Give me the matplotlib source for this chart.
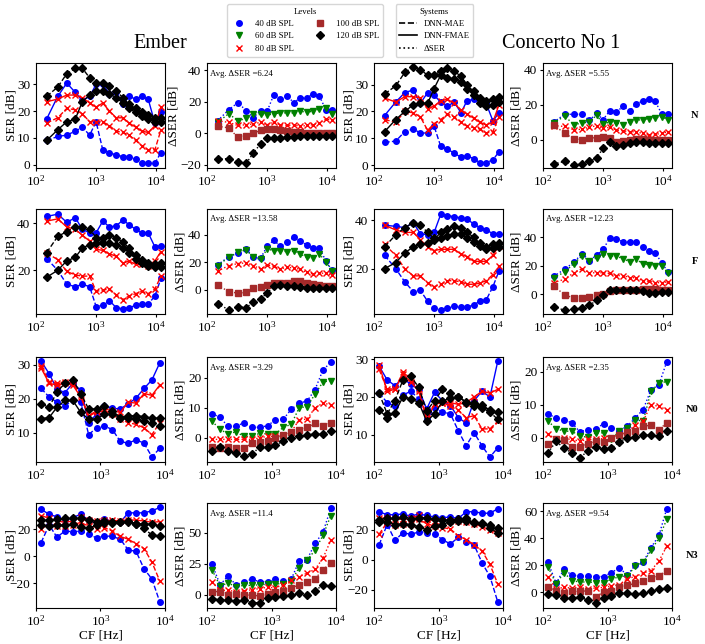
import matplotlib.pyplot as plt
from matplotlib.lines import Line2D
from matplotlib.ticker import NullLocator

plt.rcParams['font.family'] = ['Liberation Serif', 'DejaVu Serif']
plt.rcParams['mathtext.fontset'] = 'stix'

# centre frequencies (Hz)
cf_hi = [150, 230, 325, 450, 590, 780, 1000, 1290, 1670, 2160, 2800, 3530, 4560, 5750, 7350, 9500, 12000]
cf_lo = [120, 160, 211, 281, 372, 494, 655, 869, 1151, 1528, 2027, 2687, 3564, 4728, 6270, 8300]

levels = [40, 60, 80, 100, 120]
ser_levels = [40, 80, 120]
row_names = ['N', 'F', 'N0', 'N3']

# ---------------- N ----------------
ember_n_mae = {
    40: [9, 10.5, 11, 12.5, 14, 11, 16, 5.5, 4.5, 3.5, 3, 3, 2, 0.5, 0.5, 0.5, 4.5],
    80: [15.5, 17.5, 21, 20.5, 19, 16, 16, 16, 14.5, 12.5, 12, 11, 9, 7, 5.5, 5.5, 13],
    120: [25.5, 29, 34, 36, 36, 32.5, 30.5, 30.5, 29.5, 27.5, 25, 22.5, 21, 19.5, 18.5, 17.5, 17.5],
}
ember_n_fmae = {
    40: [17, 25.5, 30.5, 27, 24, 25.5, 30, 30, 26.5, 27, 22.5, 25.5, 24.5, 25.5, 24.5, 15.5, 19.5],
    80: [23.5, 24.5, 26, 26, 25, 23, 21.5, 23, 20, 17.5, 17.5, 15.5, 14, 12.5, 12, 14.5, 21.5],
    120: [9, 13, 16, 17, 23.5, 26, 27.5, 27.5, 26.5, 25, 23, 21, 19.5, 18, 17, 16, 16],
}
ember_n_dser = {
    40: [8, 15, 19.5, 14.5, 10, 14.5, 14, 24.5, 22, 23.5, 19.5, 22.5, 22.5, 25, 24, 15, 15],
    60: [7, 12.5, 8, 9.5, 12, 12, 11.5, 12.5, 13, 13, 13, 14, 13.5, 14, 15.5, 16, 12.5],
    80: [8, 7, 5, 5.5, 6, 7, 5.5, 7, 5.5, 5, 5.5, 4.5, 5, 5.5, 6.5, 9, 8.5],
    100: [4.5, 3.5, -2.5, -1.5, 0, 2, 2.5, 3, 2, 1.5, 1, 1, 0.5, 0.5, 0, 0, 0],
    120: [-16.5, -16, -18, -19, -12.5, -6.5, -3, -3, -3, -2.5, -2, -1.5, -1.5, -1.5, -1.5, -1.5, -1.5],
}
concerto_n_mae = {
    40: [8.5, 9, 12.5, 13.5, 12, 12, 14.5, 7, 6, 4.5, 3, 3.5, 2.5, 1, 1, 2, 5],
    80: [17, 16, 20, 19.5, 18, 13, 15.5, 17, 19, 18, 16, 14.5, 14, 13.5, 12, 12.5, 18],
    120: [26.5, 29.5, 34.5, 36.5, 35.5, 33.5, 33.5, 35, 36, 35, 33, 30, 27.5, 25, 24, 24.5, 25.5],
}
concerto_n_fmae = {
    40: [18.5, 23.5, 27, 28, 23, 27, 26, 23.5, 22, 23.5, 19.5, 24, 24.5, 24.5, 23, 16.5, 19.5],
    80: [25, 23.5, 25.5, 25.5, 25, 21, 22, 24, 24.5, 23, 20.5, 19, 17.5, 16, 15, 16, 22.5],
    120: [12.5, 17, 20, 22.5, 23, 23, 28.5, 33.5, 32.5, 32, 31, 28.5, 26, 23, 22, 22.5, 23.5],
}
concerto_n_dser = {
    40: [10, 14.5, 14.5, 14.5, 11, 15, 11.5, 16.5, 16, 19, 16.5, 20.5, 22, 23.5, 22, 14.5, 14.5],
    60: [9.5, 13.5, 8.5, 9.5, 10, 14, 9, 10, 9.5, 8.5, 10, 11, 11.5, 12, 12.5, 13, 11.5],
    80: [8, 7.5, 5.5, 6, 7, 8, 6.5, 7, 5.5, 5, 4.5, 4.5, 3.5, 2.5, 3, 3.5, 4.5],
    100: [8.5, 3.5, 0.5, 0, 1, 1, 1.5, 1, -1.5, -1, 0, 0.5, 0.5, 0, 0, 0, 0],
    120: [-14, -12.5, -14.5, -14, -12.5, -10.5, -5, -1.5, -3.5, -3, -2, -1.5, -1.5, -2, -2, -2, -2],
}

# ---------------- F ----------------
ember_f_mae = {
    40: [25, 20, 14, 13, 14, 13, 4.5, 5, 7, 4, 3.5, 4, 5, 5.5, 5.5, 9, 16.5],
    80: [27.5, 24.5, 19.5, 18, 17.5, 17.5, 11, 11.5, 12, 9.5, 7.5, 9, 10, 11, 10, 12, 17.5],
    120: [27.5, 34.5, 36.5, 38.5, 38.5, 37.5, 34, 31.5, 31.5, 31, 29.5, 27.5, 25, 23, 22, 21.5, 21.5],
}
ember_f_fmae = {
    40: [43, 44, 40.5, 42.5, 37.5, 36, 36, 41, 38.5, 39, 41.5, 39.5, 37.5, 36, 36, 30, 30.5],
    80: [41, 42, 38.5, 37.5, 35, 32.5, 29, 28.5, 27, 26, 23, 24, 22.5, 22.5, 22, 24, 28],
    120: [17, 20, 24, 25.5, 29.5, 31, 31.5, 34, 35, 34, 32, 29.5, 26.5, 24.5, 23, 22.5, 23],
}
ember_f_dser = {
    40: [18, 24, 26.5, 29.5, 23.5, 23, 31.5, 36, 31.5, 35, 38, 35.5, 32.5, 30.5, 30.5, 21, 14],
    60: [17.5, 23.5, 27.5, 29, 23.5, 22, 29.5, 28.5, 28.5, 27.5, 28, 26, 23.5, 23, 26, 20.5, 13.5],
    80: [13.5, 17.5, 19, 19.5, 17.5, 15, 18, 17, 15, 16.5, 15.5, 15, 12.5, 11.5, 12, 12, 10.5],
    100: [3.5, -1.5, -2.5, -2, 1, 2, 3.5, 4.5, 4.5, 5, 6, 6, 4.5, 4, 3.5, 3, 3],
    120: [-10.5, -14.5, -12.5, -13, -9, -6.5, -2.5, 2.5, 3.5, 3, 2.5, 2, 1.5, 1.5, 1, 1, 1.5],
}
concerto_f_mae = {
    40: [25.5, 20, 14.5, 10.5, 11, 6.5, 3.5, 3, 3.5, 4.5, 4, 4, 5, 6.5, 7, 12.5, 19],
    80: [30, 25.5, 20, 17, 17, 14, 12.5, 13.5, 15, 15, 14.5, 13.5, 13.5, 14, 15, 17.5, 21],
    120: [29, 34, 37, 39, 38, 35, 32.5, 32.5, 33.5, 34.5, 34.5, 32.5, 31, 29.5, 28, 28.5, 29],
}
concerto_f_fmae = {
    40: [38, 37.5, 37, 39, 34.5, 34, 35, 42.5, 42, 41.5, 41, 40.5, 38.5, 37, 36, 34.5, 34.5],
    80: [38, 36, 35, 35, 32, 29, 27.5, 28, 28, 28, 26, 25, 23, 23, 23, 25.5, 29.5],
    120: [20, 22.5, 26.5, 29, 30, 30.5, 32, 35, 36.5, 37.5, 37, 35, 33, 30.5, 29, 30, 30.5],
}
concerto_f_dser = {
    40: [12.5, 17.5, 22.5, 28.5, 23.5, 27.5, 31.5, 39.5, 38.5, 37, 37, 36.5, 33.5, 30.5, 29, 22, 15.5],
    60: [11.5, 15.5, 21.5, 27, 23, 25.5, 28, 27, 26.5, 25, 22.5, 24.5, 21.5, 20.5, 20, 20, 15],
    80: [8, 10.5, 15, 18, 15, 15, 15, 14.5, 13, 13, 11.5, 11.5, 9.5, 9, 8, 8, 8.5],
    100: [5.5, -0.5, -3, -2.5, -2, -1, 0, 2, 2.5, 2.5, 2.5, 3, 3.5, 3.5, 3.5, 3, 3],
    120: [-9, -11.5, -10.5, -10, -8, -4.5, -0.5, 2.5, 3, 3, 2.5, 2.5, 2, 1, 1, 1.5, 1.5],
}

# ---------------- N0 ----------------
ember_n0_mae = {
    40: [23, 20.5, 19, 18, 19.5, 19, 9.5, 11.5, 12, 11, 7.5, 7, 8, 7, 3, 5.5],
    80: [29.5, 25, 24.5, 25, 24.5, 21, 15, 16, 16.5, 15.5, 14, 13, 12.5, 11.5, 9.5, 13],
    120: [18.5, 17.5, 22, 24.5, 25.5, 21.5, 17, 17, 18, 16.5, 14.5, 14.5, 14, 13.5, 13, 12],
}
ember_n0_fmae = {
    40: [31, 27.3, 22.8, 21.8, 24.5, 22.5, 13, 15.5, 18, 17.2, 17, 18.5, 20.2, 23, 25.5, 30.5],
    80: [29, 24.5, 24, 24.5, 24, 20.5, 15, 16.5, 17, 16.5, 16, 19, 18.7, 21.5, 21, 24],
    120: [14.2, 14.5, 17.5, 19.5, 19.5, 16, 14, 14, 15.5, 15.5, 14.5, 15, 15, 14.8, 14.3, 14.3],
}
ember_n0_dser = {
    40: [8, 6.8, 3.8, 3.8, 5, 3.5, 3.5, 4, 6, 6.2, 9.5, 11.5, 12.2, 16, 22.5, 25],
    60: [5.5, 2.8, 1.3, 2, 0.5, 0.5, 1.5, 1.3, 1.3, 3.5, 4.5, 10, 10.3, 14.5, 18.5, 19],
    80: [-0.5, -0.5, -0.5, -0.5, -0.5, -0.5, 0, 0.5, 0.5, 1, 2, 6, 6.2, 10, 11.5, 11],
    100: [-3, -3.3, -3, -3.3, -3.5, -1.8, -1.5, -1, -0.2, 1, 2, 2.5, 3.5, 4.8, 4, 5],
    120: [-4.3, -3, -4.5, -5, -6, -5.5, -3, -3, -2.5, -1, 0, 0.5, 1, 1.3, 1.3, 2.3],
}
concerto_n0_mae = {
    40: [21, 18.5, 17.5, 20.5, 21.5, 19.5, 14, 17, 16, 15.5, 11, 7, 10.5, 7, 4, 6.5],
    80: [27.3, 22, 22.2, 26.5, 25, 22, 14.5, 18.2, 18.5, 17.5, 16.5, 14.5, 15, 11.5, 11.5, 13.5],
    120: [21, 15.5, 19, 24.5, 25.5, 22.5, 16.3, 19, 22, 21, 20, 18.5, 17.5, 17, 16, 14],
}
concerto_n0_fmae = {
    40: [28.2, 24.5, 23, 25, 23.3, 22, 16.8, 21.2, 19, 17.7, 14.5, 13, 19, 21.5, 20, 29.5],
    80: [28.5, 21.5, 22, 26, 24, 21.5, 14, 18, 18.5, 18.5, 18, 18.5, 20, 21.5, 21, 22],
    120: [16.5, 14.5, 15.8, 20, 19.5, 18.5, 13.5, 15.5, 18.8, 19.8, 20, 18.7, 18.3, 17.8, 16.5, 16],
}
concerto_n0_dser = {
    40: [7.2, 6, 5.5, 4.5, 1.8, 2.5, 2.8, 4.2, 3, 2.2, 3.5, 6, 8.5, 14.5, 16, 23],
    60: [5, 2.8, 2, 2, 0.5, 0.2, 1.5, 1.5, -0.5, 2, 3, 5.5, 5, 14, 16.5, 17],
    80: [1.2, -0.5, -0.2, -0.5, -1, -0.5, -0.5, -0.2, 0, 1, 1.5, 4, 5, 10, 9.5, 8.5],
    100: [-2, -0.5, -0.8, -2.8, -2.8, -1.8, -1, -1.2, -0.2, 1, 1.8, 2.2, 3.5, 3.8, 2.5, 4.5],
    120: [-4.5, -1, -3.2, -4.5, -6, -4, -2.8, -3.5, -3.2, -1.2, 0, 0.2, 0.8, 0.8, 0.5, 2],
}

# ---------------- N3 ----------------
ember_n3_mae = {
    40: [10, 23, 14, 18.5, 18, 18.5, 16, 13.5, 15, 14.5, 12.5, 4.5, 3.5, -9.5, -17, -34],
    80: [20, 24.5, 22.5, 22.5, 23, 25, 22, 20, 21, 18.5, 14.5, 12.5, 9, 5.5, -4.5, -18.5],
    120: [26.5, 26.5, 27.5, 28, 28, 28, 27, 25.5, 26, 25.5, 25.5, 25, 24, 20.5, 15.5, 15],
}
ember_n3_fmae = {
    40: [34.5, 31, 29, 26.5, 28.5, 31, 26.5, 24, 27.5, 25.5, 25, 32, 32, 32, 33.5, 36],
    80: [30, 28, 26, 25, 26, 29, 27, 26, 26.5, 26.5, 26, 27, 26.5, 26, 25, 25.5],
    120: [23, 22.5, 23, 23, 23.5, 21.5, 20.5, 23, 24.5, 24.5, 25, 26, 24, 23.5, 23.5, 22],
}
ember_n3_dser = {
    40: [24.5, 8, 15, 8, 10.5, 12.5, 10.5, 10.5, 12.5, 11, 12.5, 27.5, 28.5, 41.5, 50.5, 70],
    60: [20, 7, 9.5, 6.5, 7.5, 7.5, 8, 8.5, 9, 8.5, 11, 22, 28, 36, 48, 64],
    80: [10, 3.5, 3.5, 2.5, 3, 4, 5, 6, 5.5, 8, 11.5, 14.5, 17.5, 20.5, 29.5, 44],
    100: [2.5, 2.5, 0, 0.5, 0, -0.5, -1, 0.5, 2, 3, 5.5, 8, 10.5, 13, 20, 26],
    120: [-3.5, -4, -4.5, -5, -4.5, -6.5, -6.5, -2.5, -1.5, -1, -0.5, 1, 0, 3, 8, 7],
}
concerto_n3_mae = {
    40: [10, 23.5, 13, 18, 17, 18.5, 18, 17, 13.5, 10.5, 15, 12, 10, -2, -11, -28],
    80: [17, 25, 23.5, 24, 24, 27, 24, 22.5, 21.5, 20.5, 16, 13.5, 10, 6, -3, -16],
    120: [26.5, 28, 28, 28.5, 27, 28, 28, 27, 26.5, 26.5, 27, 27.5, 25.5, 24, 21, 18],
}
concerto_n3_fmae = {
    40: [32, 30, 30, 30.5, 29, 30.5, 29.5, 28.5, 28, 28.5, 27.5, 32, 32, 31, 31, 34],
    80: [28, 27.5, 27, 27, 27.5, 29.5, 27, 26, 26, 26, 26, 25, 24, 22, 20, 18],
    120: [25, 25.5, 23.5, 24, 23.5, 22, 20, 22.5, 23.5, 25.5, 26, 26, 24.5, 24.5, 23, 21],
}
concerto_n3_dser = {
    40: [22, 6.5, 17, 12.5, 12, 12, 11.5, 11.5, 14.5, 18, 12.5, 20, 22, 33, 42, 62],
    60: [18.5, 6, 14.5, 8.5, 7.5, 7.5, 7, 7, 9.5, 11.5, 12, 19, 22, 31, 40, 54],
    80: [11, 2.5, 3.5, 3, 3.5, 2.5, 3, 3.5, 4.5, 5.5, 10, 11.5, 14, 16, 23, 34],
    100: [3.5, 1, -0.5, 0.5, 0.5, 1, -3.5, 0, 1, 3.5, 5, 6.5, 8.5, 10.5, 12, 16],
    120: [-1.5, -2.5, -4.5, -4.5, -3.5, -6, -8, -4.5, -3, -1, -1, -1.5, -1, 0.5, 2, 3],
}

avg_dser = [['6.24', '5.55'], ['13.58', '12.23'], ['3.29', '2.35'], ['11.4', '9.54']]

rows = [
    (cf_hi, [(ember_n_mae, ember_n_fmae, ember_n_dser), (concerto_n_mae, concerto_n_fmae, concerto_n_dser)]),
    (cf_hi, [(ember_f_mae, ember_f_fmae, ember_f_dser), (concerto_f_mae, concerto_f_fmae, concerto_f_dser)]),
    (cf_lo, [(ember_n0_mae, ember_n0_fmae, ember_n0_dser), (concerto_n0_mae, concerto_n0_fmae, concerto_n0_dser)]),
    (cf_lo, [(ember_n3_mae, ember_n3_fmae, ember_n3_dser), (concerto_n3_mae, concerto_n3_fmae, concerto_n3_dser)]),
]

colors = {40: 'blue', 60: 'green', 80: 'red', 100: 'brown', 120: 'black'}
markers = {40: 'o', 60: 'v', 80: 'x', 100: 's', 120: 'D'}
msizes = {40: 4, 60: 4, 80: 4, 100: 4, 120: 4.2}

# axis limits / ticks per panel  [row][col]
ylims = [
    [(-1.3, 38), (-22, 44.7), (-1, 38), (-16.3, 43.9)],
    [(1.3, 46.2), (-17.7, 58.7), (1.2, 44.7), (-14.1, 60)],
    [(1.5, 32.2), (-8, 26.8), (2.7, 30.6), (-7.3, 24.4)],
    [(-38.5, 39.3), (-10.8, 74.3), (-32, 37.8), (-11.8, 66.1)],
]
yticks = [
    [[0, 10, 20, 30], [-20, 0, 20, 40], [0, 10, 20, 30], [0, 20, 40]],
    [[20, 40], [0, 20, 40], [20, 40], [0, 20, 40]],
    [[10, 20, 30], [0, 10, 20], [10, 20, 30], [0, 10, 20]],
    [[-20, 0, 20], [0, 25, 50], [-20, 0, 20], [0, 20, 40, 60]],
]
xlims = [(100, 14000), (100, 14000), (100, 10000), (100, 10000)]

W, H = 705, 644
col_left = [36, 207, 374, 543]
row_top = [63, 209, 357, 503]
aw, ah = 129, 105

fig = plt.figure(figsize=(W / 100, H / 100), dpi=100)


def style_axis(ax, r, c):
    ax.set_xscale('log')
    ax.set_xlim(*xlims[r])
    ax.set_xticks([100, 1000, 10000])
    ax.xaxis.set_minor_locator(NullLocator())
    ax.set_ylim(*ylims[r][c])
    ax.set_yticks(yticks[r][c])
    ax.tick_params(labelsize=9.5, length=2.5, width=0.8, pad=1.5)
    if r == 3:
        ax.set_xlabel('CF [Hz]', fontsize=9.5, labelpad=1)


for r, (cf, songs) in enumerate(rows):
    for s, (mae, fmae, dser) in enumerate(songs):
        c = 2 * s
        ax = fig.add_axes([col_left[c] / W, 1 - (row_top[r] + ah) / H, aw / W, ah / H])
        for lvl in ser_levels:
            ax.plot(cf, mae[lvl], ls='--', color=colors[lvl], marker=markers[lvl], ms=msizes[lvl], lw=1)
            ax.plot(cf, fmae[lvl], ls='-', color=colors[lvl], marker=markers[lvl], ms=msizes[lvl], lw=1)
        style_axis(ax, r, c)
        ax.set_ylabel('SER [dB]', fontsize=9.5)
        ax.yaxis.set_label_coords(-0.147, 0.5)

        ax2 = fig.add_axes([col_left[c + 1] / W, 1 - (row_top[r] + ah) / H, aw / W, ah / H])
        for lvl in levels:
            ax2.plot(cf, dser[lvl], ls=':', color=colors[lvl], marker=markers[lvl], ms=msizes[lvl], lw=1)
        style_axis(ax2, r, c + 1)
        ax2.set_ylabel('ΔSER [dB]', fontsize=9.5, labelpad=1)
        ax2.text(0.025, 0.9, 'Avg. ΔSER =' + avg_dser[r][s], transform=ax2.transAxes,
                 fontsize=6.3, va='center', ha='left')

    fig.text(698 / W, 1 - (row_top[r] + ah / 2) / H, row_names[r], fontsize=7.5,
             fontweight='bold', ha='right', va='center')

fig.text(160 / W, 1 - 43 / H, 'Ember', fontsize=14.5, ha='center', va='center')
fig.text(561 / W, 1 - 43 / H, 'Concerto No 1', fontsize=14.5, ha='center', va='center')

level_handles = [Line2D([], [], ls='none', color=colors[l], marker=markers[l], ms=msizes[l],
                        label=f'{l} dB SPL') for l in levels]
system_handles = [
    Line2D([], [], color='black', ls='--', lw=1.2, label='DNN-MAE'),
    Line2D([], [], color='black', ls='-', lw=1.2, label='DNN-FMAE'),
    Line2D([], [], color='black', ls=':', lw=1.2, label='ΔSER'),
]
fig.legend(handles=level_handles, title='Levels', ncol=2, loc='upper center',
           bbox_to_anchor=(305 / W, 1 - 4 / H), fontsize=6.3, title_fontsize=6.3,
           borderaxespad=0)
fig.legend(handles=system_handles, title='Systems', loc='upper center',
           bbox_to_anchor=(434.5 / W, 1 - 4 / H), fontsize=6.3, title_fontsize=6.3,
           borderaxespad=0)

fig.savefig('out.png', dpi=100)
